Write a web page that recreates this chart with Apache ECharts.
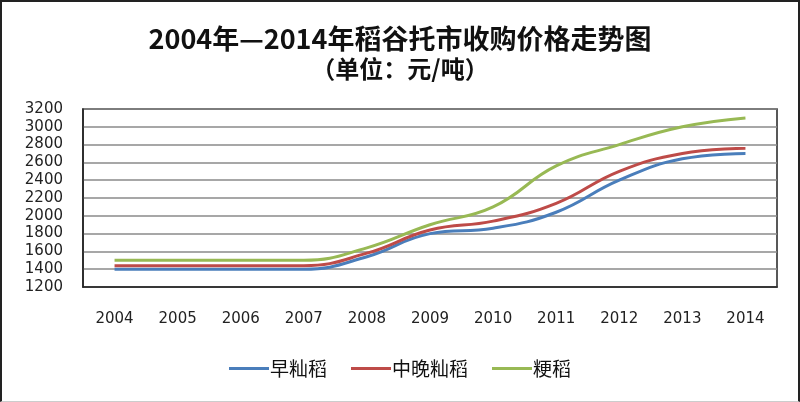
<!DOCTYPE html>
<html><head><meta charset="utf-8">
<script src="https://cdn.jsdelivr.net/npm/echarts@6/dist/echarts.min.js"></script>
<style>
html,body{margin:0;padding:0;background:#fff;}
#wrap{position:absolute;left:0;top:0;width:796px;height:399px;border-left:2px solid #222;border-top:2px solid #222;border-right:2px solid #222;border-bottom:1px solid #ccc;}
#c{position:absolute;left:0;top:0;width:800px;height:402px;}
</style></head>
<body>
<div id="wrap"></div>
<div id="c"></div>
<script>
var years = ['2004','2005','2006','2007','2008','2009','2010','2011','2012','2013','2014'];
var earlyIndica = [1400,1400,1400,1400,1540,1800,1860,2040,2400,2640,2700];
var midLateIndica = [1440,1440,1440,1440,1580,1840,1940,2140,2500,2700,2760];
var japonica = [1500,1500,1500,1500,1640,1900,2100,2560,2800,3000,3100];
var seriesNames = ['早籼稻','中晚籼稻','粳稻'];
var colors = ['#4A7EBB','#BE4B48','#98B954'];

var chart = echarts.init(document.getElementById('c'));
function mk(name, data, color){
  return {name:name,type:'line',data:data,smooth:0.45,symbol:'none',
    lineStyle:{width:3,color:color},itemStyle:{color:color}};
}
chart.setOption({
  animation:false,
  title:[
    {text:'2004年—2014年稻谷托市收购价格走势图',left:'center',top:20,
     textStyle:{fontFamily:'Noto Sans CJK SC',fontWeight:'bold',fontSize:27,color:'#111'}},
    {text:'（单位：元/吨）',left:'center',top:52,
     textStyle:{fontFamily:'Noto Sans CJK SC',fontWeight:'bold',fontSize:24,color:'#111'}}
  ],
  legend:{bottom:19,left:'center',itemWidth:40,itemHeight:3,itemGap:24,icon:'rect',
    data:seriesNames,
    textStyle:{fontFamily:'Noto Sans CJK SC',fontSize:19,color:'#111',padding:[0,0,0,-4]}},
  grid:{left:83,right:23,top:109,bottom:115,show:true,borderColor:'#222',borderWidth:1.5,backgroundColor:'#fff'},
  xAxis:{type:'category',data:years,boundaryGap:true,
    axisLine:{lineStyle:{color:'#222',width:1.5}},axisTick:{show:false},
    axisLabel:{fontFamily:'DejaVu Sans',fontSize:15,color:'#222',margin:25}},
  yAxis:{type:'value',min:1200,max:3200,interval:200,
    axisLine:{show:true,lineStyle:{color:'#222',width:1.5}},axisTick:{show:false},
    axisLabel:{fontFamily:'DejaVu Sans',fontSize:15,color:'#222',margin:20,formatter:function(v){return String(v);}},
    splitLine:{lineStyle:{color:'#8a8a8a',width:1.5}}},
  series:[mk(seriesNames[0],earlyIndica,colors[0]),mk(seriesNames[1],midLateIndica,colors[1]),mk(seriesNames[2],japonica,colors[2])]
});
</script>
</body></html>
